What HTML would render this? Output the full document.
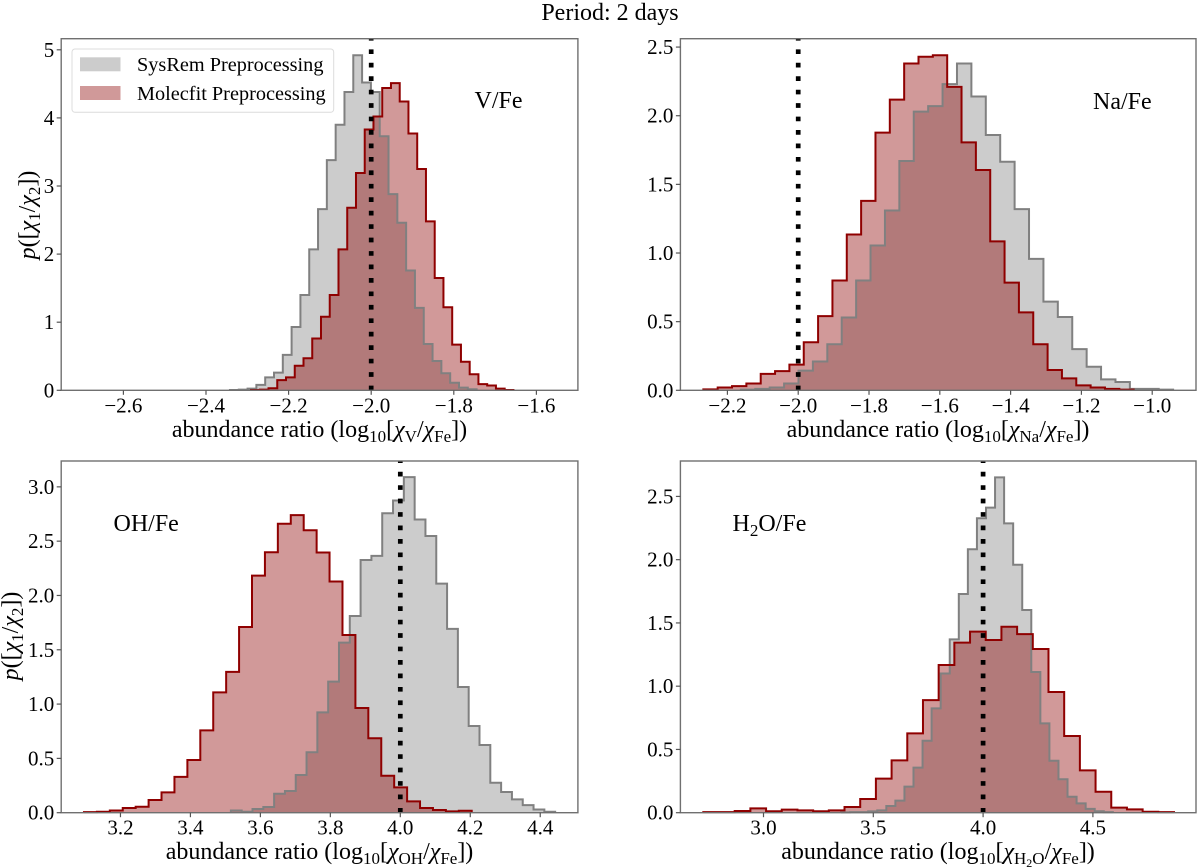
<!DOCTYPE html>
<html lang="en">
<head>
<meta charset="utf-8">
<title>Period: 2 days</title>
<style>
html,body{margin:0;padding:0;background:#fff;}
svg{display:block;font-family:"Liberation Serif",serif;}
text{fill:#000;}
</style>
</head>
<body>
<svg id="figure" xmlns="http://www.w3.org/2000/svg" width="1200" height="868" viewBox="0 0 1200 868">
  <text x="610" y="20" font-size="24" text-anchor="middle">Period: 2 days</text>

  <g id="panel-v"></g>
  <g id="panel-na"></g>
  <g id="panel-oh"></g>
  <g id="panel-h2o"></g>

  <text x="319.5" y="437" font-size="24" text-anchor="middle">abundance ratio (log<tspan dy="5" font-size="17">10</tspan><tspan dy="-5">[</tspan><tspan font-style="italic">χ</tspan><tspan dy="5" font-size="17">V</tspan><tspan dy="-5">/</tspan><tspan font-style="italic">χ</tspan><tspan dy="5" font-size="17">Fe</tspan><tspan dy="-5">])</tspan></text>
  <text x="938" y="437" font-size="24" text-anchor="middle">abundance ratio (log<tspan dy="5" font-size="17">10</tspan><tspan dy="-5">[</tspan><tspan font-style="italic">χ</tspan><tspan dy="5" font-size="17">Na</tspan><tspan dy="-5">/</tspan><tspan font-style="italic">χ</tspan><tspan dy="5" font-size="17">Fe</tspan><tspan dy="-5">])</tspan></text>
  <text x="319.5" y="859" font-size="24" text-anchor="middle">abundance ratio (log<tspan dy="5" font-size="17">10</tspan><tspan dy="-5">[</tspan><tspan font-style="italic">χ</tspan><tspan dy="5" font-size="17">OH</tspan><tspan dy="-5">/</tspan><tspan font-style="italic">χ</tspan><tspan dy="5" font-size="17">Fe</tspan><tspan dy="-5">])</tspan></text>
  <text x="938" y="859" font-size="24" text-anchor="middle">abundance ratio (log<tspan dy="5" font-size="17">10</tspan><tspan dy="-5">[</tspan><tspan font-style="italic">χ</tspan><tspan dy="5" font-size="17">H</tspan><tspan dy="3" font-size="12">2</tspan><tspan dy="-3" font-size="17">O</tspan><tspan dy="-5">/</tspan><tspan font-style="italic">χ</tspan><tspan dy="5" font-size="17">Fe</tspan><tspan dy="-5">])</tspan></text>

  <text transform="translate(35 215) rotate(-90)" font-size="24" text-anchor="middle"><tspan font-style="italic">p</tspan>([<tspan font-style="italic">χ</tspan><tspan dy="5" font-size="17">1</tspan><tspan dy="-5">/</tspan><tspan font-style="italic">χ</tspan><tspan dy="5" font-size="17">2</tspan><tspan dy="-5">])</tspan></text>
  <text transform="translate(18 636) rotate(-90)" font-size="24" text-anchor="middle"><tspan font-style="italic">p</tspan>([<tspan font-style="italic">χ</tspan><tspan dy="5" font-size="17">1</tspan><tspan dy="-5">/</tspan><tspan font-style="italic">χ</tspan><tspan dy="5" font-size="17">2</tspan><tspan dy="-5">])</tspan></text>

  <text x="474.5" y="108" font-size="24">V/Fe</text>
  <text x="1093" y="109" font-size="24">Na/Fe</text>
  <text x="113.5" y="531" font-size="24">OH/Fe</text>
  <text x="732.5" y="531" font-size="24">H<tspan dy="5" font-size="17">2</tspan><tspan dy="-5">O/Fe</tspan></text>

  <g>
    <rect x="72" y="49" width="261.7" height="63.3" rx="3" ry="3" fill="#fff" fill-opacity="0.9" stroke="#dcdcdc" stroke-width="1"/>
    <g>
      <rect x="80" y="57.3" width="40.5" height="14" fill="#cccccc"/>
      <text x="137" y="71" font-size="20.3">SysRem Preprocessing</text>
    </g>
    <g>
      <rect x="80" y="86" width="40.5" height="14" fill="#d09999"/>
      <text x="137" y="100" font-size="20.3">Molecfit Preprocessing</text>
    </g>
  </g>
</svg>
<script>
// V/Fe panel data
const vXLimits = [-2.7506, -1.4995];
const vYLimits = [0, 5.163];
const vXTicks = [-2.6, -2.4, -2.2, -2.0, -1.8, -1.6];
const vYTicks = [0, 1, 2, 3, 4, 5];
const vReference = [-2.0];
const vGrayStart = [-2.342];
const vGrayBinWidth = [0.02133];
const vGrayValues = [0.005,0.01,0.025,0.08,0.19,0.26,0.52,0.93,1.40,2.07,2.66,3.38,3.90,4.38,4.92,4.52,4.38,3.73,2.88,2.46,1.76,1.21,0.68,0.43,0.25,0.11,0.04,0.015];
const vRedStart = [-2.291];
const vRedBinWidth = [0.02118];
const vRedValues = [0.005,0.01,0.03,0.15,0.19,0.36,0.47,0.76,1.08,1.40,2.07,2.68,3.19,3.83,4.02,4.44,4.51,4.24,3.77,3.25,2.48,1.65,1.22,0.67,0.42,0.235,0.09,0.07,0.025,0.005];

// Na/Fe panel data
const naXLimits = [-2.3328, -0.8763];
const naYLimits = [0, 2.561];
const naXTicks = [-2.2, -2.0, -1.8, -1.6, -1.4, -1.2, -1.0];
const naYTicks = [0, 0.5, 1.0, 1.5, 2.0, 2.5];
const naReference = [-2.0];
const naGrayStart = [-2.162];
const naGrayBinWidth = [0.0407];
const naGrayValues = [0.005,0.01,0.02,0.05,0.143,0.21,0.335,0.53,0.80,1.055,1.31,1.67,2.03,2.07,2.23,2.38,2.14,1.86,1.665,1.32,0.957,0.646,0.534,0.30,0.172,0.08,0.06,0.01,0.01,0.005];
const naRedStart = [-2.268];
const naRedBinWidth = [0.04052];
const naRedValues = [0.007,0.02,0.03,0.05,0.12,0.14,0.187,0.35,0.54,0.80,1.135,1.38,1.877,2.117,2.38,2.43,2.44,2.21,1.806,1.605,1.085,0.784,0.568,0.335,0.148,0.087,0.036,0.02,0.01,0.005];

// OH/Fe panel data
const ohXLimits = [3.0306, 4.5077];
const ohYLimits = [0, 3.238];
const ohXTicks = [3.2, 3.4, 3.6, 3.8, 4.0, 4.2, 4.4];
const ohYTicks = [0, 0.5, 1.0, 1.5, 2.0, 2.5, 3.0];
const ohReference = [4.0];
const ohGrayStart = [3.5157];
const ohGrayBinWidth = [0.0309];
const ohGrayValues = [0.02,0.009,0.034,0.052,0.175,0.2,0.347,0.556,0.924,1.207,1.566,1.811,2.327,2.364,2.757,2.874,3.089,2.70,2.548,2.109,1.692,1.157,0.798,0.623,0.276,0.19,0.123,0.07,0.03,0.009];
const ohRedStart = [3.0957];
const ohRedBinWidth = [0.03695];
const ohRedValues = [0.005,0.009,0.02,0.043,0.055,0.117,0.187,0.33,0.485,0.758,1.108,1.296,1.71,2.183,2.398,2.66,2.74,2.60,2.395,2.128,1.636,0.964,0.685,0.34,0.233,0.104,0.043,0.025,0.012,0.018];

// H2O/Fe panel data
const h2oXLimits = [2.6216, 4.9695];
const h2oYLimits = [0, 2.78];
const h2oXTicks = [3.0, 3.5, 4.0, 4.5];
const h2oYTicks = [0, 0.5, 1.0, 1.5, 2.0, 2.5];
const h2oReference = [4.0];
const h2oGrayStart = [3.353];
const h2oGrayBinWidth = [0.04126];
const h2oGrayValues = [0.003,0.005,0.005,0.01,0.018,0.053,0.095,0.206,0.356,0.569,0.825,1.10,1.37,1.729,2.082,2.327,2.411,2.651,2.287,1.96,1.602,1.112,0.706,0.411,0.264,0.126,0.074,0.03,0.011,0.005];
const h2oRedStart = [2.7259];
const h2oRedBinWidth = [0.07145];
const h2oRedValues = [0.005,0.005,0.013,0.034,0.011,0.024,0.018,0.011,0.018,0.045,0.108,0.269,0.414,0.627,0.89,1.167,1.344,1.431,1.365,1.47,1.412,1.294,0.954,0.606,0.335,0.166,0.04,0.026,0.008,0.005];

const NS = 'http://www.w3.org/2000/svg';

function make(tag, attrs, parent) {
  const el = document.createElementNS(NS, tag);
  for (const k in attrs) el.setAttributeNS(null, k, attrs[k]);
  parent.appendChild(el);
  return el;
}

function histPath(start, width, values, xScale, yScale) {
  let d = 'M' + xScale(start).toFixed(2) + ' ' + yScale(0).toFixed(2);
  values.forEach(function (v, i) {
    d += 'V' + yScale(v).toFixed(2) + 'H' + xScale(start + (i + 1) * width).toFixed(2);
  });
  d += 'V' + yScale(0).toFixed(2);
  return d;
}

function tickText(v, digits) {
  return v.toFixed(digits).replace('-', '\u2212');
}

function drawPanel(p) {
  const root = document.getElementById(p.id);
  const xScale = function (v) { return p.left + (v - p.xLim[0]) / (p.xLim[1] - p.xLim[0]) * (p.right - p.left); };
  const yScale = function (v) { return p.bottom - (v - p.yLim[0]) / (p.yLim[1] - p.yLim[0]) * (p.bottom - p.top); };

  const grayD = histPath(p.grayStart, p.grayWidth, p.gray, xScale, yScale);
  const redD = histPath(p.redStart, p.redWidth, p.red, xScale, yScale);

  const grayFill = make('path', { d: grayD + 'Z', fill: '#808080', 'fill-opacity': 0.4, stroke: 'none' }, root);
  
  

  const redFill = make('path', { d: redD + 'Z', fill: '#8b0000', 'fill-opacity': 0.4, stroke: 'none' }, root);
  
  

  const grayLine = make('path', { d: grayD, fill: 'none', stroke: '#808080', 'stroke-width': 2, 'stroke-linejoin': 'miter' }, root);
  
  

  const redLine = make('path', { d: redD, fill: 'none', stroke: '#8f0000', 'stroke-width': 2, 'stroke-linejoin': 'miter' }, root);
  
  

  const refLine = make('line', { x1: xScale(p.ref[0]), x2: xScale(p.ref[0]), y1: p.bottom, y2: p.top, stroke: '#000', 'stroke-width': 4.7, 'stroke-dasharray': '4.7 8.75' }, root);
  
  

  const frame = make('rect', { x: p.left, y: p.top, width: p.right - p.left, height: p.bottom - p.top, fill: 'none', stroke: '#707070', 'stroke-width': 1.4 }, root);
  
  

  p.xTicks.forEach(function (v) {
    const mark = make('line', { x1: xScale(v), x2: xScale(v), y1: p.bottom, y2: p.bottom + 4.5, stroke: '#555', 'stroke-width': 1.2 }, root);
    
    
    const label = make('text', { x: xScale(v), y: p.bottom + 22, 'font-size': 21, 'text-anchor': 'middle' }, root);
    
    
    label.textContent = tickText(v, 1);
  });

  p.yTicks.forEach(function (v) {
    const mark = make('line', { x1: p.left - 4.5, x2: p.left, y1: yScale(v), y2: yScale(v), stroke: '#555', 'stroke-width': 1.2 }, root);
    
    
    const label = make('text', { x: p.left - 7, y: yScale(v) + 7, 'font-size': 21, 'text-anchor': 'end' }, root);
    
    
    label.textContent = tickText(v, p.yDigits);
  });
}

drawPanel({ id: 'panel-v', left: 61.2, right: 577.9, top: 38.7, bottom: 390.3, xLim: vXLimits, yLim: vYLimits, xTicks: vXTicks, yTicks: vYTicks, yDigits: 0, ref: vReference, grayStart: vGrayStart[0], grayWidth: vGrayBinWidth[0], gray: vGrayValues, redStart: vRedStart[0], redWidth: vRedBinWidth[0], red: vRedValues });
drawPanel({ id: 'panel-na', left: 680.4, right: 1196, top: 38.7, bottom: 390.3, xLim: naXLimits, yLim: naYLimits, xTicks: naXTicks, yTicks: naYTicks, yDigits: 1, ref: naReference, grayStart: naGrayStart[0], grayWidth: naGrayBinWidth[0], gray: naGrayValues, redStart: naRedStart[0], redWidth: naRedBinWidth[0], red: naRedValues });
drawPanel({ id: 'panel-oh', left: 61.2, right: 577.9, top: 461, bottom: 812.7, xLim: ohXLimits, yLim: ohYLimits, xTicks: ohXTicks, yTicks: ohYTicks, yDigits: 1, ref: ohReference, grayStart: ohGrayStart[0], grayWidth: ohGrayBinWidth[0], gray: ohGrayValues, redStart: ohRedStart[0], redWidth: ohRedBinWidth[0], red: ohRedValues });
drawPanel({ id: 'panel-h2o', left: 680.4, right: 1196, top: 461, bottom: 812.7, xLim: h2oXLimits, yLim: h2oYLimits, xTicks: h2oXTicks, yTicks: h2oYTicks, yDigits: 1, ref: h2oReference, grayStart: h2oGrayStart[0], grayWidth: h2oGrayBinWidth[0], gray: h2oGrayValues, redStart: h2oRedStart[0], redWidth: h2oRedBinWidth[0], red: h2oRedValues });
</script>
</body>
</html>
